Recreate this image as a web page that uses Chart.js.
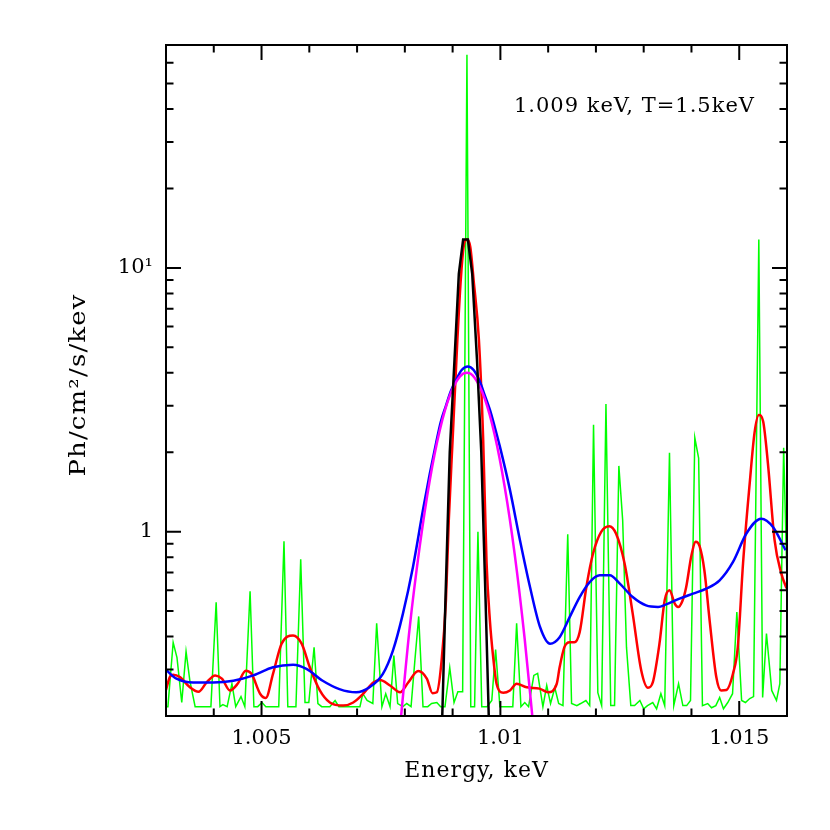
<!DOCTYPE html>
<html>
<head>
<meta charset="utf-8">
<script src="https://cdn.jsdelivr.net/npm/chart.js@4/dist/chart.umd.min.js"></script>
<style>
  html, body { margin: 0; padding: 0; background: #fff; }
  #spec { display: block; }
</style>
</head>
<body>
<canvas id="spec" width="830" height="830"></canvas>
<script>
// energy axis (keV) and flux (Ph/cm2/s/keV)
const greenE = [1.00300, 1.00304, 1.00315, 1.00323, 1.00333, 1.00342, 1.00350, 1.00361, 1.00394, 1.00405,
  1.00413, 1.00419, 1.00428, 1.00438, 1.00446, 1.00457, 1.00465, 1.00476, 1.00484, 1.00492,
  1.00501, 1.00509, 1.00536, 1.00547, 1.00555, 1.00572, 1.00582, 1.00591, 1.00599, 1.00610,
  1.00618, 1.00626, 1.00643, 1.00654, 1.00662, 1.00706, 1.00712, 1.00721, 1.00733, 1.00741,
  1.00752, 1.00760, 1.00769, 1.00777, 1.00785, 1.00796, 1.00804, 1.00813, 1.00821, 1.00829,
  1.00838, 1.00848, 1.00856, 1.00867, 1.00875, 1.00884, 1.00894, 1.00903, 1.00911, 1.00921,
  1.00930, 1.00938, 1.00946, 1.00953, 1.00961, 1.00972, 1.00982, 1.00990, 1.00999, 1.01026,
  1.01034, 1.01043, 1.01051, 1.01059, 1.01070, 1.01078, 1.01089, 1.01097, 1.01105, 1.01114,
  1.01122, 1.01131, 1.01141, 1.01149, 1.01160, 1.01168, 1.01179, 1.01187, 1.01195, 1.01204,
  1.01212, 1.01221, 1.01231, 1.01239, 1.01248, 1.01256, 1.01264, 1.01273, 1.01281, 1.01292,
  1.01300, 1.01308, 1.01319, 1.01327, 1.01336, 1.01344, 1.01354, 1.01363, 1.01373, 1.01382,
  1.01390, 1.01398, 1.01407, 1.01415, 1.01423, 1.01434, 1.01442, 1.01451, 1.01459, 1.01467,
  1.01476, 1.01486, 1.01495, 1.01505, 1.01513, 1.01522, 1.01530, 1.01541, 1.01549, 1.01557,
  1.01568, 1.01578, 1.01585, 1.01593, 1.01600];
const greenFlux = [0.217, 0.217, 0.380, 0.333, 0.225, 0.351, 0.272, 0.217, 0.217, 0.540,
  0.217, 0.221, 0.217, 0.265, 0.217, 0.237, 0.217, 0.594, 0.217, 0.217,
  0.225, 0.217, 0.217, 0.920, 0.217, 0.217, 0.786, 0.225, 0.225, 0.364,
  0.223, 0.217, 0.217, 0.229, 0.217, 0.217, 0.243, 0.229, 0.223, 0.449,
  0.217, 0.243, 0.217, 0.339, 0.223, 0.217, 0.223, 0.217, 0.325, 0.477,
  0.217, 0.217, 0.223, 0.225, 0.217, 0.217, 0.305, 0.225, 0.247, 0.247,
  64.3, 0.217, 0.217, 1.00, 0.217, 0.217, 0.229, 0.357, 0.217, 0.217,
  0.449, 0.217, 0.225, 0.217, 0.285, 0.290, 0.217, 0.261, 0.223, 0.256,
  0.223, 0.219, 0.978, 0.223, 0.219, 0.223, 0.229, 0.219, 2.54, 0.245,
  0.219, 3.05, 0.219, 0.219, 1.775, 1.106, 0.364, 0.219, 0.219, 0.229,
  0.213, 0.219, 0.225, 0.213, 0.243, 0.219, 1.99, 0.219, 0.265, 0.219,
  0.219, 0.229, 2.27, 1.90, 0.219, 0.223, 0.215, 0.219, 0.235, 0.213,
  0.225, 0.243, 0.496, 0.229, 0.225, 0.233, 0.237, 12.8, 0.235, 0.411,
  0.250, 0.229, 0.265, 2.08, 0.65];

const redE = [1.00300, 1.00308, 1.00315, 1.00329, 1.00350, 1.00368, 1.00385, 1.00403, 1.00417, 1.00434,
  1.00450, 1.00467, 1.00479, 1.00497, 1.00509, 1.00524, 1.00542, 1.00566, 1.00584, 1.00601,
  1.00622, 1.00643, 1.00671, 1.00692, 1.00713, 1.00734, 1.00748, 1.00769, 1.00790, 1.00807,
  1.00828, 1.00846, 1.00858, 1.00867, 1.00877, 1.00886, 1.00892, 1.00900, 1.00910, 1.00917,
  1.00923, 1.00930, 1.00937, 1.00944, 1.00955, 1.00964, 1.00971, 1.00978, 1.00985, 1.00992,
  1.01006, 1.01020, 1.01034, 1.01055, 1.01082, 1.01100, 1.01118, 1.01124, 1.01134, 1.01145,
  1.01155, 1.01166, 1.01180, 1.01194, 1.01211, 1.01228, 1.01242, 1.01260, 1.01277, 1.01295,
  1.01309, 1.01319, 1.01333, 1.01344, 1.01354, 1.01365, 1.01372, 1.01381, 1.01389, 1.01400,
  1.01409, 1.01417, 1.01427, 1.01438, 1.01452, 1.01462, 1.01473, 1.01487, 1.01497, 1.01508,
  1.01522, 1.01532, 1.01541, 1.01550, 1.01560, 1.01574, 1.01588, 1.01599];
const redFlux = [0.251, 0.281, 0.287, 0.281, 0.257, 0.247, 0.268, 0.285, 0.277, 0.250,
  0.265, 0.297, 0.289, 0.243, 0.234, 0.289, 0.376, 0.404, 0.376, 0.306,
  0.250, 0.225, 0.219, 0.225, 0.243, 0.268, 0.274, 0.261, 0.246, 0.268,
  0.296, 0.277, 0.244, 0.246, 0.325, 0.549, 1.106, 2.23, 5.35, 8.97,
  12.0, 12.8, 12.0, 8.97, 5.35, 2.23, 0.769, 0.461, 0.333, 0.265,
  0.245, 0.250, 0.265, 0.257, 0.254, 0.246, 0.265, 0.306, 0.365, 0.381,
  0.381, 0.416, 0.617, 0.826, 0.998, 1.049, 0.984, 0.757, 0.489, 0.297,
  0.256, 0.268, 0.376, 0.549, 0.599, 0.533, 0.518, 0.546, 0.617, 0.814,
  0.915, 0.881, 0.714, 0.461, 0.281, 0.250, 0.251, 0.290, 0.365, 0.759,
  1.53, 2.37, 2.77, 2.62, 1.82, 0.928, 0.695, 0.610];

const blueE = [1.00300, 1.00322, 1.00357, 1.00399, 1.00441, 1.00483, 1.00524, 1.00566, 1.00594, 1.00628,
  1.00663, 1.00698, 1.00726, 1.00754, 1.00775, 1.00796, 1.00817, 1.00838, 1.00852, 1.00865,
  1.00875, 1.00886, 1.00896, 1.00907, 1.00919, 1.00932, 1.00944, 1.00957, 1.00967, 1.00978,
  1.00988, 1.00999, 1.01020, 1.01041, 1.01062, 1.01083, 1.01104,
  1.01124, 1.01145, 1.01166, 1.01187, 1.01208, 1.01229, 1.01250, 1.01277, 1.01305, 1.01330,
  1.01347, 1.01375, 1.01403, 1.01431, 1.01459, 1.01487, 1.01515, 1.01546, 1.01571, 1.01597];
const blueFlux = [0.299, 0.277, 0.268, 0.268, 0.272, 0.285, 0.306, 0.313, 0.302, 0.272,
  0.253, 0.246, 0.257, 0.289, 0.354, 0.489, 0.735, 1.21, 1.65, 2.15,
  2.6, 3.0, 3.4, 3.75, 4.1, 4.23, 4.1, 3.71, 3.3, 2.9,
  2.5, 2.1, 1.44, 0.928, 0.617, 0.435, 0.376,
  0.398, 0.474, 0.565, 0.644, 0.683, 0.683, 0.635, 0.565, 0.525, 0.518,
  0.530, 0.557, 0.582, 0.608, 0.654, 0.768, 0.984, 1.12, 1.04, 0.85];

const magentaE = [1.00790, 1.00810, 1.00831, 1.00852, 1.00873, 1.00894, 1.00915, 1.00930,
  1.00946, 1.00967, 1.00988, 1.01009, 1.01030, 1.01051, 1.01068];
const magentaFlux = [0.182, 0.43, 0.875, 1.56, 2.42, 3.28, 3.87, 4.0,
  3.83, 3.2, 2.33, 1.48, 0.82, 0.39, 0.19];

const blackE = [1.00875, 1.00885, 1.00894, 1.00904, 1.00913, 1.00922, 1.00932, 1.00941,
  1.00951, 1.00960, 1.00969, 1.00979];
const blackFlux = [0.12, 0.55, 2.0, 4.5, 9.5, 12.8, 12.8, 9.5, 4.5, 2.0, 0.55, 0.12];

// axes
const xRange = [1.003, 1.016];
const yRange = [0.2, 70];
const xTicks = [1.003, 1.004, 1.005, 1.006, 1.007, 1.008, 1.009, 1.010, 1.011, 1.012, 1.013, 1.014, 1.015, 1.016];
const xMajor = [1.005, 1.01, 1.015];
const xTickLabels = ['1.005', '1.01', '1.015'];
const yTicks = [0.2, 0.3, 0.4, 0.5, 0.6, 0.7, 0.8, 0.9, 1, 2, 3, 4, 5, 6, 7, 8, 9, 10, 20, 30, 40, 50, 60, 70];
const yMajor = [1, 10];
const yTickLabels = ['1', '10¹'];
const xTitle = 'Energy, keV';
const yTitle = 'Ph/cm²/s/kev';
const note = '1.009 keV, T=1.5keV';

const FONT = '21px "DejaVu Serif"';
const TITLE_FONT = '22px "DejaVu Serif"';

function pairs(xs, ys) {
    return xs.map((x, i) => ({ x: x, y: ys[i] }));
}

function isMajor(v, list) {
    return list.some(m => Math.abs(m - v) < 1e-9);
}

// PGPLOT-like box: frame, inward ticks on all sides, labels
const boxPlugin = {
    id: 'box',
    afterDatasetsDraw(chart) {
        const { ctx, chartArea: a, scales: { x, y } } = chart;
        ctx.save();
        ctx.strokeStyle = '#000';
        ctx.lineWidth = 2;
        ctx.lineCap = 'butt';
        ctx.strokeRect(a.left, a.top, a.right - a.left, a.bottom - a.top);

        ctx.beginPath();
        x.ticks.forEach(t => {
            const px = x.getPixelForValue(t.value);
            const len = isMajor(t.value, xMajor) ? 15 : 7.5;
            ctx.moveTo(px, a.bottom); ctx.lineTo(px, a.bottom - len);
            ctx.moveTo(px, a.top); ctx.lineTo(px, a.top + len);
        });
        y.ticks.forEach(t => {
            const py = y.getPixelForValue(t.value);
            const len = isMajor(t.value, yMajor) ? 15 : 7.5;
            ctx.moveTo(a.left, py); ctx.lineTo(a.left + len, py);
            ctx.moveTo(a.right, py); ctx.lineTo(a.right - len, py);
        });
        ctx.stroke();

        ctx.fillStyle = '#000';
        ctx.font = FONT;
        ctx.textAlign = 'center';
        ctx.textBaseline = 'alphabetic';
        xMajor.forEach((v, i) => {
            ctx.fillText(xTickLabels[i], x.getPixelForValue(v), a.bottom + 28);
        });

        ctx.textAlign = 'right';
        ctx.textBaseline = 'middle';
        yMajor.forEach((v, i) => {
            ctx.fillText(yTickLabels[i], a.left - 13, y.getPixelForValue(v));
        });

        ctx.font = TITLE_FONT;
        ctx.textAlign = 'center';
        ctx.textBaseline = 'alphabetic';
        ctx.letterSpacing = '1px';
        ctx.fillText(xTitle, (a.left + a.right) / 2, a.bottom + 61);

        // wide Hershey-like glyphs: stretch along the text direction
        ctx.save();
        ctx.translate(85, 385);
        ctx.rotate(-Math.PI / 2);
        ctx.scale(1.18, 1);
        ctx.letterSpacing = '1px';
        ctx.fillText(yTitle, 0, 0);
        ctx.restore();

        ctx.font = FONT;
        ctx.textAlign = 'right';
        ctx.letterSpacing = '1px';
        ctx.fillText(note, 755, 112);
        ctx.restore();
    }
};

new Chart(document.getElementById('spec'), {
    type: 'line',
    data: {
        datasets: [
            { data: pairs(blackE, blackFlux), borderColor: '#000000', borderWidth: 2.5, tension: 0, order: 1 },
            { data: pairs(magentaE, magentaFlux), borderColor: '#ff00ff', borderWidth: 2.5, cubicInterpolationMode: 'monotone', order: 2 },
            { data: pairs(blueE, blueFlux), borderColor: '#0000ff', borderWidth: 2.5, cubicInterpolationMode: 'monotone', order: 3 },
            { data: pairs(redE, redFlux), borderColor: '#ff0000', borderWidth: 2.5, cubicInterpolationMode: 'monotone', order: 4 },
            { data: pairs(greenE, greenFlux), borderColor: '#00ff00', borderWidth: 1.5, tension: 0, order: 5 }
        ]
    },
    options: {
        responsive: false,
        animation: false,
        events: [],
        layout: { padding: { left: 166, right: 43, top: 45, bottom: 114 } },
        elements: { point: { radius: 0 }, line: { fill: false } },
        plugins: { legend: { display: false }, tooltip: { enabled: false } },
        scales: {
            x: {
                type: 'linear',
                min: xRange[0],
                max: xRange[1],
                afterBuildTicks: s => { s.ticks = xTicks.map(v => ({ value: v })); },
                ticks: { display: false },
                grid: { display: false, drawTicks: false },
                border: { display: false }
            },
            y: {
                type: 'logarithmic',
                min: yRange[0],
                max: yRange[1],
                afterBuildTicks: s => { s.ticks = yTicks.map(v => ({ value: v })); },
                ticks: { display: false },
                grid: { display: false, drawTicks: false },
                border: { display: false }
            }
        }
    },
    plugins: [boxPlugin]
});
</script>
</body>
</html>
